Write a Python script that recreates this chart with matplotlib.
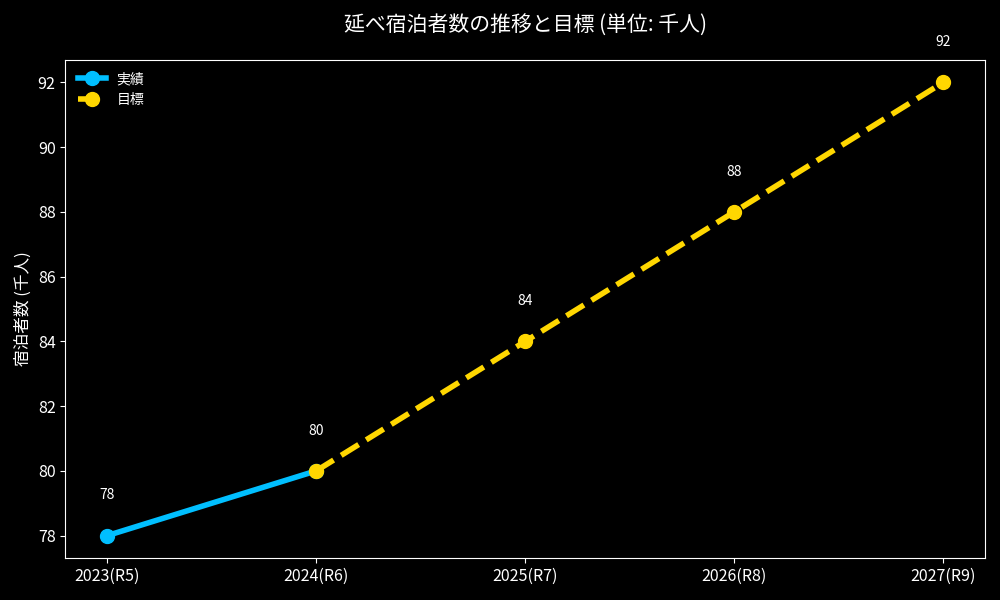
import matplotlib
matplotlib.use("Agg")
import matplotlib.pyplot as plt

plt.rcParams['font.family'] = ['Noto Sans CJK JP', 'DejaVu Sans']

# データ
years = ["2023(R5)", "2024(R6)", "2025(R7)", "2026(R8)", "2027(R9)"]
actual_x = [0, 1]
actual_vals = [78, 80]
target_x = [1, 2, 3, 4]
target_vals = [80, 84, 88, 92]

fig, ax = plt.subplots(figsize=(10, 6), dpi=100)
fig.patch.set_facecolor("black")
ax.set_facecolor("black")

ax.plot(actual_x, actual_vals, color="#00BFFF", linewidth=4, marker="o",
        markersize=10, label="実績")
ax.plot(target_x, target_vals, color="#FFD700", linewidth=4, linestyle="--",
        marker="o", markersize=10, label="目標")

# 値ラベル
labels_x = actual_x[:1] + target_x
labels_v = actual_vals[:1] + target_vals
for x, v in zip(labels_x, labels_v):
    ax.annotate(f"{v}", (x, v), xytext=(0, 29), textcoords="offset points",
                ha="center", va="center", color="white", fontsize=10)

ax.set_xticks(range(len(years)))
ax.set_xticklabels(years)
ax.set_title("延べ宿泊者数の推移と目標 (単位: 千人)", color="white",
             fontsize=15, pad=20)
ax.set_ylabel("宿泊者数 (千人)", color="white", fontsize=12)

for s in ax.spines.values():
    s.set_color("white")
ax.tick_params(colors="white", labelsize=11.5)

leg = ax.legend(loc="upper left", frameon=False, fontsize=10)
for t in leg.get_texts():
    t.set_color("white")

plt.tight_layout()
plt.savefig("out.png", facecolor=fig.get_facecolor())
